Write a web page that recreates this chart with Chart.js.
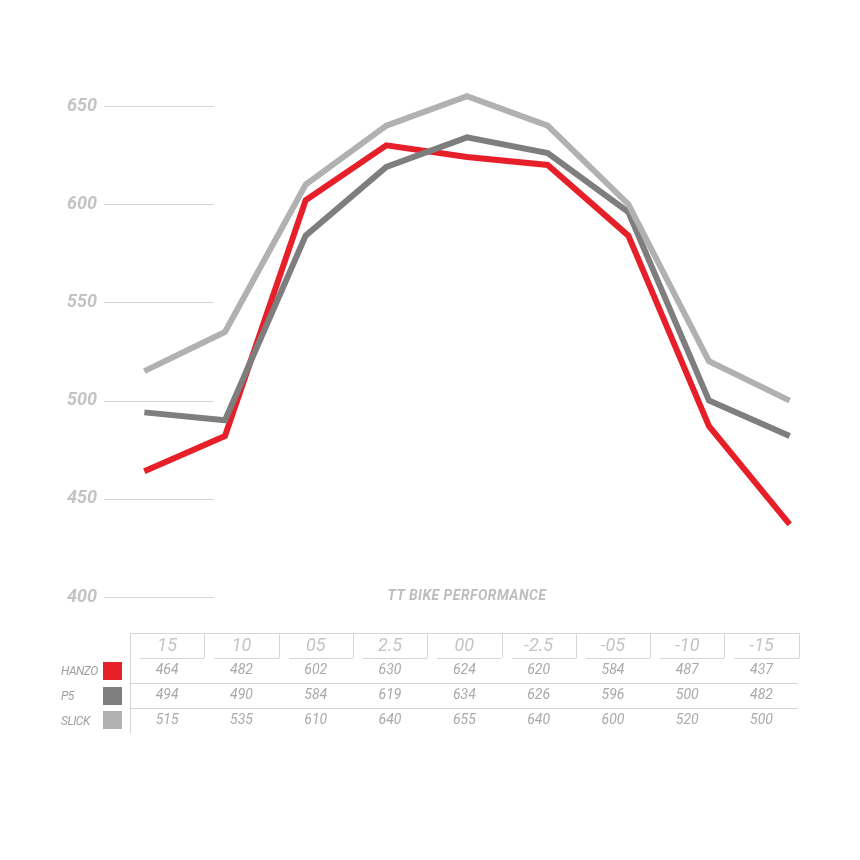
<!DOCTYPE html>
<html>
<head>
<meta charset="utf-8">
<script src="https://cdn.jsdelivr.net/npm/chart.js@4"></script>
<style>
  body { margin: 0; background: #fff; font-family: Roboto, "DejaVu Sans", sans-serif; }
  #wrap { position: relative; width: 860px; height: 860px; }
  #chart { position: absolute; left: 0; top: 0; }
  .abs { position: absolute; }
  .hline { position: absolute; height: 1px; background: #d6d6d6; }
  .vline { position: absolute; width: 1px; background: #d6d6d6; }
  .title { left: 104px; width: 726px; top: 587px; text-align: center; font: italic bold 14px Roboto; color: #bdbdbd; letter-spacing: 0.45px; }
  .head { font: italic 18px Roboto; color: #c4c4c4; text-align: center; }
  .val { font: italic 14px Roboto; color: #a9a9a9; text-align: center; }
  .lbl { font: italic 12px Roboto; color: #a0a0a0; letter-spacing: -0.5px; }
  .sw { width: 19px; height: 18px; }
</style>
</head>
<body>
<div id="wrap">
  <canvas id="chart" width="860" height="860"></canvas>
  <div class="abs title">TT BIKE PERFORMANCE</div>
  <div id="table"></div>
</div>
<script>
// positions along the wheel
const categories = ['15', '10', '05', '2.5', '00', '-2.5', '-05', '-10', '-15'];
const seriesNames = ['HANZO', 'P5', 'SLICK'];
const hanzo = [464, 482, 602, 630, 624, 620, 584, 487, 437];
const p5 = [494, 490, 584, 619, 634, 626, 596, 500, 482];
const slick = [515, 535, 610, 640, 655, 640, 600, 520, 500];
const yTicks = [400, 450, 500, 550, 600, 650];

const colors = ['#e61f29', '#7e7e7e', '#b1b1b1'];
const seriesData = [hanzo, p5, slick];

// short grid lines next to the y labels only
const shortGrid = {
  id: 'shortGrid',
  beforeDatasetsDraw(chart) {
    const ctx = chart.ctx;
    const y = chart.scales.y;
    ctx.save();
    ctx.strokeStyle = '#d4d4d4';
    ctx.lineWidth = 1;
    yTicks.forEach(t => {
      const py = Math.round(y.getPixelForValue(t)) + 0.5;
      ctx.beginPath();
      ctx.moveTo(chart.chartArea.left, py);
      ctx.lineTo(chart.chartArea.left + 110, py);
      ctx.stroke();
    });
    ctx.restore();
  }
};

new Chart(document.getElementById('chart'), {
  type: 'line',
  data: {
    labels: categories,
    datasets: seriesNames.map((name, i) => ({
      label: name,
      data: seriesData[i],
      borderColor: colors[i],
      backgroundColor: colors[i],
      borderWidth: 6,
      pointRadius: 0,
      tension: 0,
      clip: false,
      order: 3 - i
    }))
  },
  options: {
    responsive: false,
    devicePixelRatio: 1,
    animation: false,
    layout: { padding: { top: 106, bottom: 263, left: 0, right: 30 } },
    plugins: {
      legend: { display: false },
      tooltip: { enabled: false }
    },
    scales: {
      x: { display: false, offset: true },
      y: {
        min: 400,
        max: 650,
        afterBuildTicks: s => { s.ticks = yTicks.map(v => ({ value: v })); },
        afterFit: s => { s.width = 104; },
        grid: { display: false, drawTicks: false },
        border: { display: false },
        ticks: {
          padding: 7,
          color: '#c3c3c3',
          font: { family: 'Roboto', size: 18, style: 'italic', weight: 'bold' }
        }
      }
    }
  },
  plugins: [shortGrid]
});

// data table under the chart
const table = document.getElementById('table');
const tLeft = 130, colW = 74.3, tTop = 633;
const rowY = [662, 687, 712];
function add(cls, css, text) {
  const d = document.createElement('div');
  d.className = cls;
  Object.assign(d.style, css);
  if (text !== undefined) d.textContent = text;
  table.appendChild(d);
}
add('hline', { left: tLeft + 'px', top: tTop + 'px', width: (colW * categories.length) + 'px' });
add('vline', { left: tLeft + 'px', top: tTop + 'px', height: '100px' });
categories.forEach((c, i) => {
  const x = tLeft + i * colW;
  add('vline', { left: (x + colW) + 'px', top: tTop + 'px', height: '25px' });
  add('hline', { left: (x + 10) + 'px', top: (tTop + 25) + 'px', width: (colW - 10) + 'px' });
  add('abs head', { left: x + 'px', top: (tTop + 1) + 'px', width: colW + 'px' }, c);
  seriesData.forEach((arr, r) => {
    add('abs val', { left: x + 'px', top: (rowY[r] - 1) + 'px', width: colW + 'px' }, arr[i]);
  });
});
add('hline', { left: tLeft + 'px', top: '683px', width: (colW * categories.length - 1) + 'px' });
add('hline', { left: tLeft + 'px', top: '708px', width: (colW * categories.length - 1) + 'px' });
seriesNames.forEach((n, r) => {
  add('abs lbl', { left: '61px', top: (rowY[r] + 2) + 'px' }, n);
  add('abs sw', { left: '103px', top: (662 + r * 24.5) + 'px', background: colors[r] });
});
</script>
</body>
</html>
